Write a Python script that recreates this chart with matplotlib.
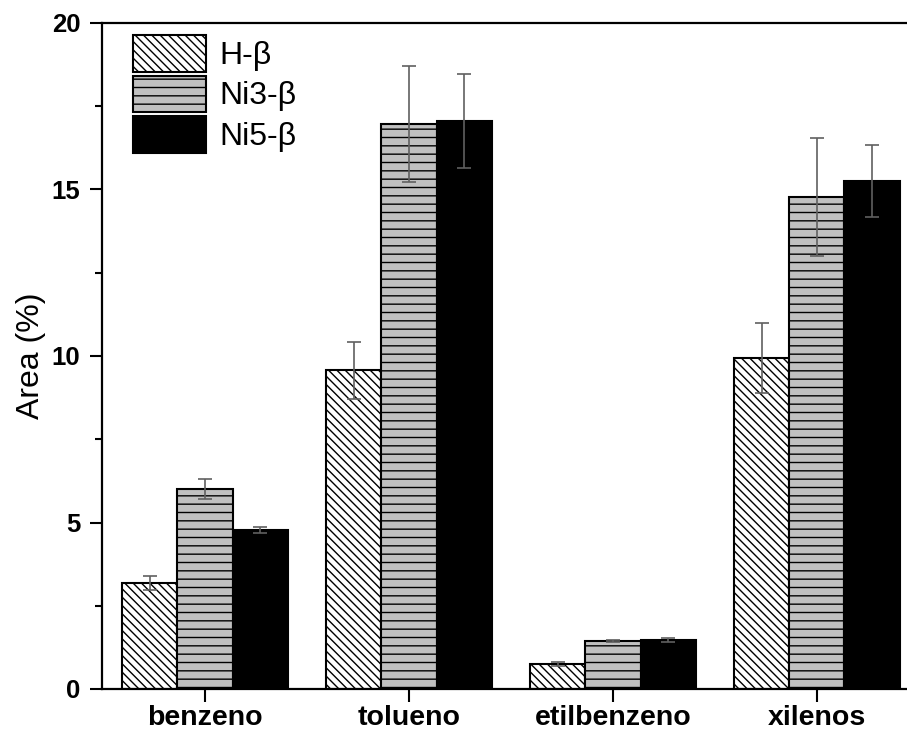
import numpy as np
import matplotlib
matplotlib.use("Agg")
import matplotlib.pyplot as plt
from matplotlib.ticker import MultipleLocator

# data
categories = ["benzeno", "tolueno", "etilbenzeno", "xilenos"]
series = ["H-β", "Ni3-β", "Ni5-β"]
h_beta = [3.18, 9.57, 0.75, 9.95]
h_beta_err = [0.20, 0.85, 0.05, 1.05]
ni3_beta = [6.00, 16.97, 1.44, 14.78]
ni3_beta_err = [0.30, 1.75, 0.03, 1.78]
ni5_beta = [4.77, 17.06, 1.48, 15.26]
ni5_beta_err = [0.10, 1.40, 0.06, 1.08]

plt.rcParams["font.family"] = ["Liberation Sans", "DejaVu Sans"]
plt.rcParams["hatch.linewidth"] = 1.0

fig = plt.figure(figsize=(9.07, 7.35), dpi=100)
# the right edge of the axes sits just past the picture (cropped like the original)
left, right, top, bottom = 102, 912, 23, 689
ax = fig.add_axes([left / 907, 1 - bottom / 735, (right - left) / 907,
                   (bottom - top) / 735])

x = np.arange(len(categories))
w = 0.27
styles = [
    dict(facecolor="white", hatch="\\\\\\\\"),
    dict(facecolor="#c0c0c0", hatch="--"),
    dict(facecolor="black", hatch=None),
]
values = [h_beta, ni3_beta, ni5_beta]
errors = [h_beta_err, ni3_beta_err, ni5_beta_err]

for i, (name, vals, errs, st) in enumerate(zip(series, values, errors, styles)):
    ax.bar(x + (i - 1) * w, vals, w, label=name, edgecolor="black",
           linewidth=1.5, zorder=2, **st)
    ax.errorbar(x + (i - 1) * w, vals, yerr=errs, fmt="none", ecolor="#606060",
                elinewidth=1.2, capsize=5, capthick=1.2, zorder=3)

ax.set_xlim(-0.505, 3.466)
ax.set_ylim(0, 20)
ax.set_xticks(x)
ax.set_xticklabels(categories, fontsize=20.5, fontweight="bold")
ax.yaxis.set_major_locator(MultipleLocator(5))
ax.yaxis.set_minor_locator(MultipleLocator(2.5))
for lab in ax.get_yticklabels():
    lab.set_fontweight("bold")
ax.tick_params(axis="y", which="major", direction="out", length=8.5, width=1.5,
               labelsize=18.5, pad=7)
ax.tick_params(axis="y", which="minor", direction="out", length=5, width=1.5)
ax.tick_params(axis="x", which="major", direction="out", length=9.4, width=1.5,
               pad=2)
for s in ax.spines.values():
    s.set_linewidth(1.6)

ax.set_ylabel("Area (%)", fontsize=23, labelpad=4)

ax.legend(loc="upper left", bbox_to_anchor=(0.038, 0.982), frameon=False,
          fontsize=23, handlelength=2.3, handleheight=1.39, labelspacing=0.12,
          handletextpad=0.4, borderpad=0, borderaxespad=0)

fig.savefig("out.png", dpi=100)
